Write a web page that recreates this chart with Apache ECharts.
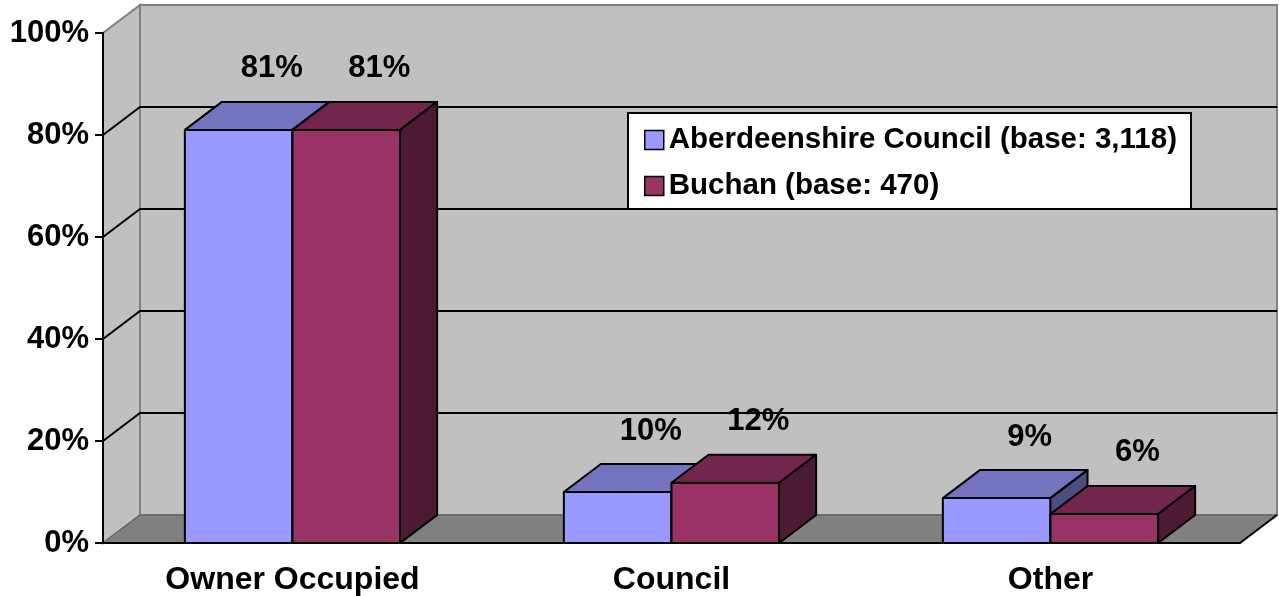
<!DOCTYPE html>
<html>
<head>
<meta charset="utf-8">
<script src="https://cdn.jsdelivr.net/npm/echarts@6/dist/echarts.min.js"></script>
<style>
    html, body { margin: 0; padding: 0; background: #fff; }
    #main { width: 1279px; height: 596px; }
</style>
</head>
<body>
<div id="main"></div>
<script>
    // data
    var categories = ['Owner Occupied', 'Council', 'Other'];
    var seriesNames = ['Aberdeenshire Council (base: 3,118)', 'Buchan (base: 470)'];
    var aberdeenshire = [81, 10, 8.8];
    var buchan = [81, 11.8, 5.7];
    var yTicks = [0, 20, 40, 60, 80, 100];

    // 3d look: depth offset in pixels
    var DX = 37, DY = -28;
    var FONT = '"Liberation Sans", Arial, sans-serif';
    var faces = [
        {front: '#9999ff', top: '#7373bf', side: '#4d4d80'},
        {front: '#993366', top: '#73264d', side: '#4d1a33'}
    ];

    function renderWalls(params, api) {
        var cs = params.coordSys;
        var x0 = cs.x, x1 = cs.x + cs.width, yT = cs.y, yB = cs.y + cs.height;
        var children = [];
        // left side wall
        children.push({type: 'polygon', shape: {points: [[x0, yB], [x0, yT], [x0 + DX, yT + DY], [x0 + DX, yB + DY]]},
            style: {fill: '#c0c0c0', stroke: '#808080', lineWidth: 2}});
        // back wall
        children.push({type: 'rect', shape: {x: x0 + DX, y: yT + DY, width: x1 - x0, height: yB - yT},
            style: {fill: '#c0c0c0', stroke: '#808080', lineWidth: 2}});
        // floor
        children.push({type: 'polygon', shape: {points: [[x0, yB], [x1, yB], [x1 + DX, yB + DY], [x0 + DX, yB + DY]]},
            style: {fill: '#808080', stroke: '#5a5a5a', lineWidth: 1}});
        children.push({type: 'line', shape: {x1: x1, y1: yB, x2: x1 + DX, y2: yB + DY},
            style: {stroke: '#000', lineWidth: 2}});
        // gridlines on side + back wall
        yTicks.forEach(function (v) {
            if (v === 0 || v === 100) return;
            var y = api.coord([0, v])[1];
            children.push({type: 'polyline', shape: {points: [[x0, y], [x0 + DX, y + DY], [x1 + DX, y + DY]]},
                style: {stroke: '#000', lineWidth: 2, fill: null}});
        });
        return {type: 'group', children: children};
    }

    function makeBarRenderer(s) {
        return function (params, api) {
            var idx = api.value(0), v = api.value(1);
            var base = api.coord([idx, 0]);
            var top = api.coord([idx, v]);
            var band = api.size([1, 0])[0];
            var w = band * 0.284;
            var xL = s === 0 ? base[0] - w : base[0];
            var xR = xL + w;
            var yT = top[1], yB = base[1];
            var c = faces[s];
            var line = {stroke: '#000', lineWidth: 2, lineJoin: 'round'};
            return {
                type: 'group',
                children: [
                    {type: 'rect', shape: {x: xL, y: yT, width: w, height: yB - yT},
                        style: Object.assign({fill: c.front}, line)},
                    {type: 'polygon', shape: {points: [[xL, yT], [xR, yT], [xR + DX, yT + DY], [xL + DX, yT + DY]]},
                        style: Object.assign({fill: c.top}, line)},
                    {type: 'polygon', shape: {points: [[xR, yT], [xR + DX, yT + DY], [xR + DX, yB + DY], [xR, yB]]},
                        style: Object.assign({fill: c.side}, line)},
                    {type: 'text', style: {text: Math.round(v) + '%', x: xL + w / 2 + DX - 4, y: yT + DY - 33,
                        align: 'center', verticalAlign: 'middle', fill: '#000',
                        fontSize: 31, fontWeight: 'bold', fontFamily: FONT}}
                ]
            };
        };
    }

    function toData(values) {
        return values.map(function (v, i) { return [i, v]; });
    }

    var myChart = echarts.init(document.getElementById('main'));
    var option = {
        backgroundColor: '#fff',
        animation: false,
        grid: {left: 103, right: 39, top: 33, bottom: 53},
        legend: {
            orient: 'vertical', left: 628, top: 113,
            padding: [12, 14, 8, 16], itemGap: 16,
            itemWidth: 19, itemHeight: 19, icon: 'rect',
            backgroundColor: '#fff', borderColor: '#000', borderWidth: 2,
            selectedMode: false,
            itemStyle: {borderColor: '#000', borderWidth: 1.5},
            textStyle: {fontSize: 29.5, fontWeight: 'bold', color: '#000', fontFamily: FONT},
            data: seriesNames
        },
        xAxis: {
            type: 'category', data: categories, z: 5,
            axisLine: {lineStyle: {color: '#000', width: 2}},
            axisTick: {length: 8, lineStyle: {color: '#000', width: 2}},
            axisLabel: {fontSize: 32, fontWeight: 'bold', color: '#000', fontFamily: FONT, margin: 21},
            splitLine: {show: false}
        },
        yAxis: {
            type: 'value', min: 0, max: 100, interval: 20, z: 5,
            axisLine: {show: true, lineStyle: {color: '#000', width: 2}},
            axisTick: {show: true, length: 8, lineStyle: {color: '#000', width: 2}},
            axisLabel: {formatter: '{value}%', fontSize: 31, fontWeight: 'bold', color: '#000', fontFamily: FONT, margin: 14},
            splitLine: {show: false}
        },
        series: [
            {type: 'custom', name: 'walls', silent: true, renderItem: renderWalls, data: [[0, 0]], z: 1},
            {type: 'custom', name: seriesNames[0], renderItem: makeBarRenderer(0), data: toData(aberdeenshire),
                itemStyle: {color: faces[0].front}, z: 2},
            {type: 'custom', name: seriesNames[1], renderItem: makeBarRenderer(1), data: toData(buchan),
                itemStyle: {color: faces[1].front}, z: 2}
        ]
    };
    myChart.setOption(option, true);
</script>
</body>
</html>
